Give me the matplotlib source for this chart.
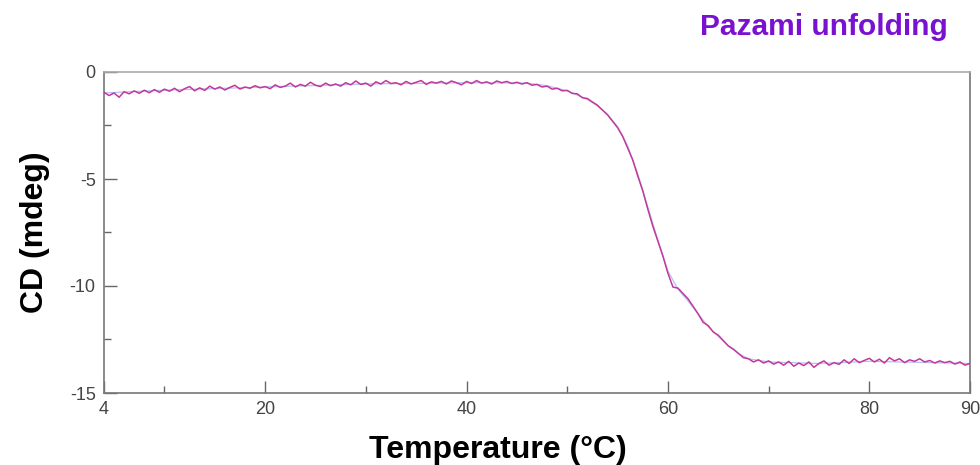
import numpy as np
import matplotlib
matplotlib.use("Agg")
import matplotlib.pyplot as plt
from matplotlib.ticker import FuncFormatter

# Measured CD signal (mdeg) every 0.5 degC, 4..90 degC
temp_start, temp_stop, temp_step = 4.0, 90.0, 0.5
cd_signal = [
    -0.95, -1.10, -0.98, -1.18, -0.92, -1.02, -0.88, -1.00, -0.85, -0.97,
    -0.82, -0.95, -0.80, -0.90, -0.76, -0.92, -0.78, -0.68, -0.88, -0.74,
    -0.86, -0.66, -0.80, -0.70, -0.84, -0.72, -0.62, -0.80, -0.70, -0.76,
    -0.64, -0.74, -0.68, -0.78, -0.60, -0.72, -0.66, -0.52, -0.70, -0.58,
    -0.66, -0.48, -0.62, -0.68, -0.52, -0.64, -0.56, -0.66, -0.50, -0.60,
    -0.42, -0.58, -0.52, -0.66, -0.46, -0.56, -0.40, -0.54, -0.50, -0.60,
    -0.44, -0.56, -0.48, -0.40, -0.58, -0.46, -0.52, -0.44, -0.56, -0.42,
    -0.50, -0.60, -0.44, -0.54, -0.40, -0.52, -0.46, -0.56, -0.42, -0.50,
    -0.44, -0.54, -0.48, -0.56, -0.50, -0.62, -0.58, -0.70, -0.66, -0.80,
    -0.76, -0.88, -0.86, -1.00, -1.02, -1.20, -1.24, -1.40, -1.55, -1.78,
    -2.00, -2.30, -2.60, -3.00, -3.55, -4.10, -4.85, -5.55, -6.40, -7.20,
    -7.90, -8.60, -9.40, -10.05, -10.10, -10.35, -10.60, -10.95, -11.30, -11.70,
    -11.85, -12.15, -12.30, -12.55, -12.80, -12.95, -13.15, -13.35, -13.40, -13.55,
    -13.45, -13.60, -13.50, -13.65, -13.55, -13.70, -13.52, -13.75, -13.60, -13.72,
    -13.55, -13.80, -13.62, -13.50, -13.70, -13.58, -13.66, -13.45, -13.62, -13.40,
    -13.58, -13.48, -13.38, -13.55, -13.42, -13.60, -13.35, -13.50, -13.40, -13.58,
    -13.45, -13.52, -13.40, -13.55, -13.48, -13.60, -13.50, -13.58, -13.52, -13.65,
    -13.55, -13.70, -13.62,
]

# Smooth fitted curve
fit_temp = [4, 10, 20, 30, 40, 46, 48, 50, 51, 52, 53, 54, 55, 56, 57, 58,
            59, 60, 61, 62, 63, 64, 65, 66, 67, 68, 70, 75, 80, 90]
fit_cd = [-0.98, -0.85, -0.70, -0.56, -0.50, -0.52, -0.64, -0.88, -1.08, -1.28,
          -1.58, -1.98, -2.55, -3.45, -4.75, -6.30, -7.85, -9.30, -10.15, -10.70,
          -11.30, -11.90, -12.35, -12.80, -13.15, -13.40, -13.55, -13.62, -13.52, -13.62]

x_ticks = [4, 20, 40, 60, 80, 90]
x_minor = [10, 30, 50, 70]
y_ticks = [0, -5, -10, -15]
y_minor = [-2.5, -7.5, -12.5]

temps = np.arange(temp_start, temp_stop + temp_step / 2, temp_step)

plt.rcParams['font.family'] = ['Liberation Sans', 'DejaVu Sans']

fig = plt.figure(figsize=(9.8, 4.65), dpi=100)
ax = fig.add_axes([104 / 980, 72 / 465, 866 / 980, 321 / 465])

ax.plot(fit_temp, fit_cd, color='#b4c0f0', lw=0.9, zorder=2)
ax.plot(temps, cd_signal, color='#c2389c', lw=1.1, zorder=3)

ax.set_xlim(4, 90)
ax.set_ylim(-15, 0)
ax.set_xticks(x_ticks)
ax.set_xticks(x_minor, minor=True)
ax.set_yticks(y_ticks)
ax.set_yticks(y_minor, minor=True)
ax.yaxis.set_major_formatter(FuncFormatter(lambda v, p: f"{v:g}".replace('\u2212', '-')))

ax.tick_params(axis='both', which='major', direction='in', length=9, width=1.0,
               color='#666666', labelsize=13, labelcolor='#444444', pad=6)
ax.tick_params(axis='both', which='minor', direction='in', length=5, width=1.0,
               color='#666666')
ax.tick_params(top=False, right=False)

for name, sp in ax.spines.items():
    sp.set_color('#777777')
    sp.set_linewidth(1.2)
ax.spines['top'].set_color('#aaaaaa')

ax.set_xlabel('Temperature (°C)', fontsize=23, fontweight='bold', color='black', labelpad=8)
ax.xaxis.set_label_coords((498 - 104) / 866, -0.13)
ax.xaxis.label.set_va('top')
ax.set_ylabel('CD (mdeg)', fontsize=23, fontweight='bold', color='black', labelpad=14)

fig.text(948 / 980, 1 - 27 / 465, 'Pazami unfolding', ha='right', va='center',
         fontsize=21.5, fontweight='bold', color='#7a10d0')

fig.savefig('out.png', dpi=100)
